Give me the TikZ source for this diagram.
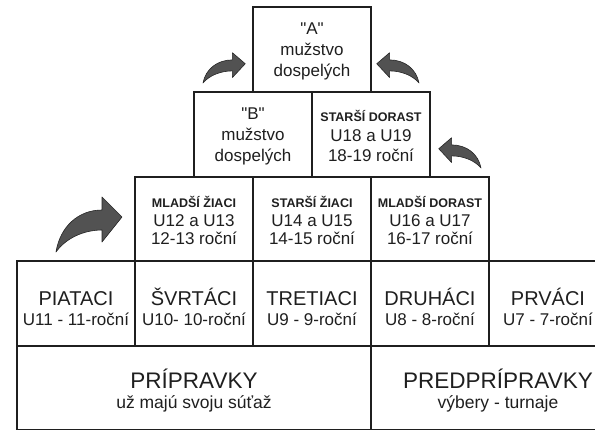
\documentclass[tikz,border=0pt]{standalone}
\usepackage{fontspec}
\setmainfont{Liberation Sans}[Ligatures=TeXOff]
\newcommand\mylbl[1]{{\fontsize{12.5}{14}\selectfont\bfseries #1}}
\newcommand\myttl[1]{{\fontsize{20}{24}\selectfont #1}}
\newcommand\myhdr[1]{{\fontsize{22.5}{26}\selectfont #1}}
\newcommand\mytop[1]{\rule{0pt}{#1}}
\newcommand\mybot[1]{\rule[-#1]{0pt}{#1}}
\begin{document}
\begin{tikzpicture}[x=1pt,y=-1pt,
  cell/.style={draw=black!88, line width=1.2pt, rectangle, inner sep=0pt, align=center,
    text=black!88, minimum width=118pt, minimum height=85pt},
  big/.style={cell, font=\fontsize{17}{21}\selectfont},
  sdbox/.style={cell, font=\fontsize{17}{20}\selectfont},
  mid/.style={cell, font=\fontsize{17}{18.5}\selectfont, minimum height=84pt},
  low/.style={cell, font=\fontsize{17}{20}\selectfont},
  base/.style={cell, font=\fontsize{17.5}{20}\selectfont, minimum height=83pt},
  arrowshape/.style={fill=black!68, draw=black!85, line width=0.6pt, line join=round}
]
\useasboundingbox (0,0) rectangle (595,431);
\fill[white] (0,0) rectangle (595,431);
\clip (0,0) rectangle (595,431);

% curved arrows
\begin{scope}[shift={(56,252)}]
  \path[arrowshape] (0,0) .. controls (4,-25) and (22,-42) .. (46,-42) -- (46,-55) -- (66,-35) -- (46,-10) -- (46,-22) .. controls (28,-22) and (10,-14) .. (0,0) -- cycle;
\end{scope}
\begin{scope}[shift={(203,83)}, xscale=0.64, yscale=0.55]
  \path[arrowshape] (0,0) .. controls (4,-25) and (22,-42) .. (46,-42) -- (46,-55) -- (66,-35) -- (46,-10) -- (46,-22) .. controls (28,-22) and (10,-14) .. (0,0) -- cycle;
\end{scope}
\begin{scope}[shift={(419,83)}, xscale=-0.64, yscale=0.55]
  \path[arrowshape] (0,0) .. controls (4,-25) and (22,-42) .. (46,-42) -- (46,-55) -- (66,-35) -- (46,-10) -- (46,-22) .. controls (28,-22) and (10,-14) .. (0,0) -- cycle;
\end{scope}
\begin{scope}[shift={(481,168)}, xscale=-0.64, yscale=0.55]
  \path[arrowshape] (0,0) .. controls (4,-25) and (22,-42) .. (46,-42) -- (46,-55) -- (66,-35) -- (46,-10) -- (46,-22) .. controls (28,-22) and (10,-14) .. (0,0) -- cycle;
\end{scope}

% row 1
\node[big] (a) at (312,49.5) {\mytop{17pt}"A"\\mužstvo\\dospelých\mybot{5pt}};
% row 2
\node[big] (b) at (253,134.5) {\mytop{17pt}"B"\\mužstvo\\dospelých\mybot{5pt}};
\node[sdbox] (sd) at (371,134.5) {\mytop{18.5pt}\mylbl{STARŠÍ DORAST}\\[-0.5pt]U18 a U19\\18-19 roční\mybot{5pt}};
% row 3
\node[mid] (mz) at (194,219) {\mytop{19pt}\mylbl{MLADŠÍ ŽIACI}\\U12 a U13\\12-13 roční\mybot{5pt}};
\node[mid] (sz) at (312,219) {\mytop{19pt}\mylbl{STARŠÍ ŽIACI}\\U14 a U15\\14-15 roční\mybot{5pt}};
\node[mid] (md) at (430,219) {\mytop{19pt}\mylbl{MLADŠÍ DORAST}\\U16 a U17\\16-17 roční\mybot{5pt}};
% row 4
\node[low] (p5) at (76,303.5) {\mytop{29pt}\myttl{PIATACI}\\U11 - 11-roční\mybot{5pt}};
\node[low] (p4) at (194,303.5) {\mytop{29pt}\myttl{ŠVRTÁCI}\\U10- 10-roční\mybot{5pt}};
\node[low] (p3) at (312,303.5) {\mytop{29pt}\myttl{TRETIACI}\\U9 - 9-roční\mybot{5pt}};
\node[low] (p2) at (430,303.5) {\mytop{29pt}\myttl{DRUHÁCI}\\U8 - 8-roční\mybot{5pt}};
\node[low] (p1) at (548,303.5) {\mytop{29pt}\myttl{PRVÁCI}\\U7 - 7-roční\mybot{5pt}};
% row 5
\node[base, minimum width=354pt] (pr) at (194,388) {\mytop{26pt}\myhdr{PRÍPRAVKY}\\už majú svoju súťaž\mybot{6pt}};
\node[base, minimum width=254pt] (pp) at (498,388) {\mytop{26pt}\myhdr{PREDPRÍPRAVKY}\\výbery - turnaje\mybot{6pt}};
\end{tikzpicture}
\end{document}
